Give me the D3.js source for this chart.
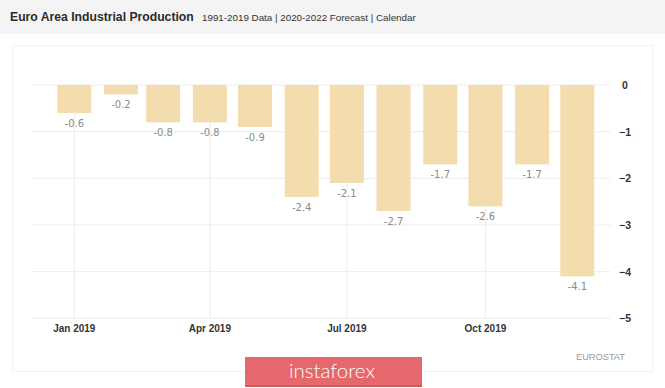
<!DOCTYPE html>
<html>
<head>
<meta charset="utf-8">
<script src="https://cdn.jsdelivr.net/npm/d3@7"></script>
<style>
  html, body { margin: 0; padding: 0; background: #ffffff; }
  svg { display: block; }
</style>
</head>
<body>
<svg id="chart" width="665" height="388"></svg>
<script>
// ---- data ----
const months = ["2019-01","2019-02","2019-03","2019-04","2019-05","2019-06",
                "2019-07","2019-08","2019-09","2019-10","2019-11","2019-12"];
const values = [-0.6, -0.2, -0.8, -0.8, -0.9, -2.4, -2.1, -2.7, -1.7, -2.6, -1.7, -4.1];
const yTicks = [0, -1, -2, -3, -4, -5];
const xTickMonths = ["2019-01","2019-04","2019-07","2019-10"];
const title = "Euro Area Industrial Production";
const subtitle = "1991-2019 Data | 2020-2022 Forecast | Calendar";
const source = "EUROSTAT";

const parse = d3.timeParse("%Y-%m");
const svg = d3.select("#chart");

// shrink font so the natural width fits the target width
function fit(sel, target) {
  const node = sel.node();
  const w = node.getComputedTextLength();
  const fs = parseFloat(sel.attr("font-size"));
  if (w > target) sel.attr("font-size", (fs * target / w).toFixed(2));
  return sel;
}

// header band
svg.append("rect").attr("x",0).attr("y",0).attr("width",665).attr("height",34).attr("fill","#f4f4f4");
fit(svg.append("text").attr("x",10).attr("y",21)
  .attr("font-family","Liberation Sans Narrow, Arial Narrow, Liberation Sans, sans-serif").attr("font-weight","bold")
  .attr("font-size",17).attr("fill","#2b2b2b")
  .text(title), 184);
fit(svg.append("text").attr("x",202).attr("y",20.5)
  .attr("font-family","Liberation Sans Narrow, Arial Narrow, Liberation Sans, sans-serif")
  .attr("font-size",13).attr("fill","#333")
  .text(subtitle), 214);

// panel
svg.append("rect").attr("x",12.5).attr("y",45.5).attr("width",640).attr("height",326)
  .attr("fill","#fff").attr("stroke","#f3f3f3");

// scales
const x = d3.scaleTime()
  .domain([parse("2019-01"), parse("2019-12")])
  .range([74.3, 577.3]);
const y = d3.scaleLinear().domain([-5, 0]).range([318.3, 85]);
const gridLeft = 32, gridRight = 610;
const barW = 34;

// horizontal gridlines
svg.append("g").selectAll("line").data(yTicks).join("line")
  .attr("x1",gridLeft).attr("x2",gridRight)
  .attr("y1",d=>y(d)).attr("y2",d=>y(d))
  .attr("stroke","#ececec").attr("stroke-width",1);

// vertical gridlines
svg.append("g").selectAll("line").data(xTickMonths).join("line")
  .attr("x1",d=>x(parse(d))).attr("x2",d=>x(parse(d)))
  .attr("y1",y(0)).attr("y2",y(-5))
  .attr("stroke","#ececec").attr("stroke-width",1);

// bars
svg.append("g").selectAll("rect").data(months).join("rect")
  .attr("x",(d)=>x(parse(d)) - barW/2)
  .attr("y",y(0))
  .attr("width",barW)
  .attr("height",(d,i)=>y(values[i]) - y(0))
  .attr("fill","#f3dcae");

// value labels
svg.append("g").selectAll("text").data(months).join("text")
  .attr("x",d=>x(parse(d)))
  .attr("y",(d,i)=>y(values[i]) + 14)
  .attr("text-anchor","middle")
  .attr("font-family","DejaVu Sans, Verdana, sans-serif")
  .attr("font-size",10).attr("fill","#8a8a8a")
  .text((d,i)=>values[i].toFixed(1));

// x axis labels
const fmt = d3.timeFormat("%b %Y");
svg.append("g").selectAll("text").data(xTickMonths).join("text")
  .attr("x",d=>x(parse(d))).attr("y",332)
  .attr("text-anchor","middle")
  .attr("font-family","Liberation Sans, Arial, sans-serif")
  .attr("font-weight","bold").attr("font-size",10).attr("fill","#333")
  .text(d=>fmt(parse(d)));

// y axis labels
svg.append("g").selectAll("text").data(yTicks).join("text")
  .attr("x",d=> d===0 ? 622 : 619).attr("y",d=>y(d)+4)
  .attr("text-anchor","start")
  .attr("font-family","Liberation Sans, Arial, sans-serif")
  .attr("font-weight","bold").attr("font-size",10.5).attr("fill","#333")
  .text(d=>d3.format("d")(d));

// source
fit(svg.append("text").attr("x",576).attr("y",360)
  .attr("font-family","Liberation Sans, Arial, sans-serif")
  .attr("font-size",9.5).attr("fill","#9a9a9a")
  .text(source), 49);

// watermark badge
svg.append("rect").attr("x",245).attr("y",357).attr("width",177).attr("height",30)
  .attr("fill","#e4686c");
svg.append("rect").attr("x",245).attr("y",385).attr("width",177).attr("height",2)
  .attr("fill","#cf5a5e");
fit(svg.append("text").attr("x",332).attr("y",377.5)
  .attr("text-anchor","middle")
  .attr("font-family","Lato, Open Sans, sans-serif").attr("font-weight",300)
  .attr("font-size",21).attr("fill","#ffffff")
  .text("instaforex"), 86);
</script>
</body>
</html>
